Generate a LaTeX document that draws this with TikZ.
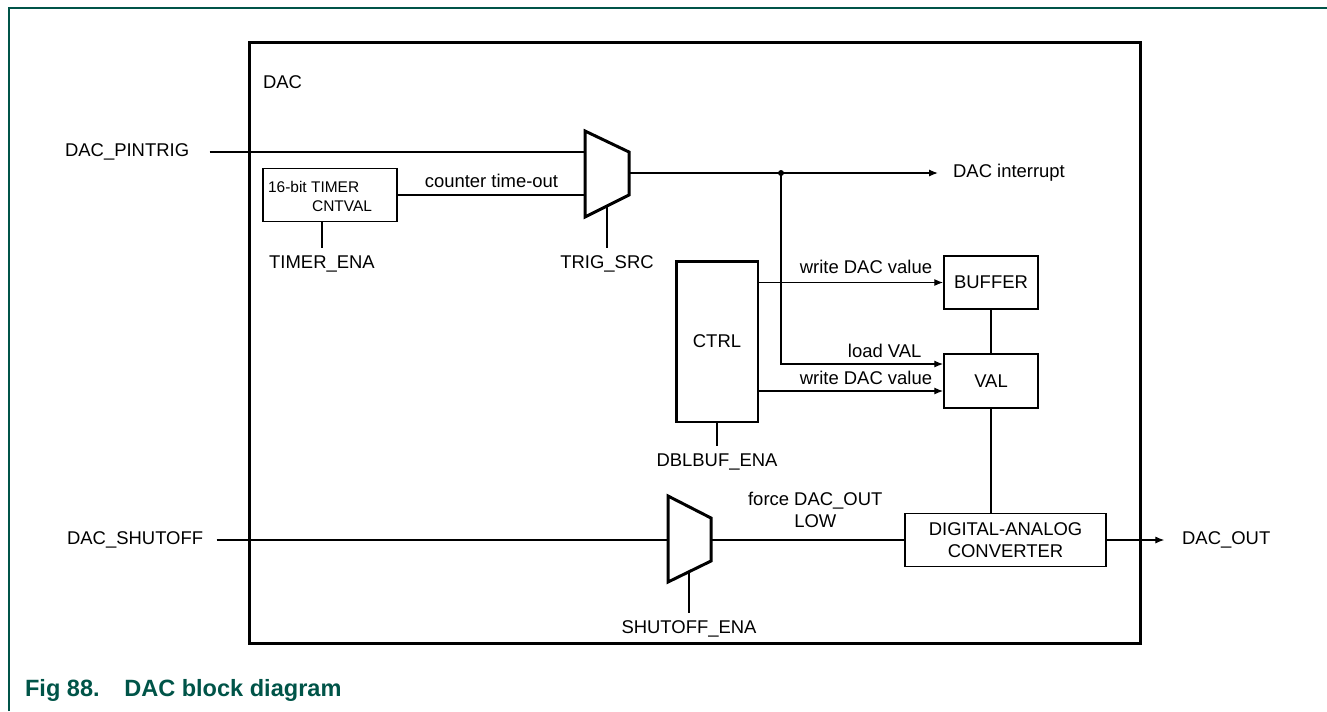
\documentclass[tikz,border=0pt]{standalone}
\usepackage{fontspec}
\setmainfont{Liberation Sans}
\usetikzlibrary{arrows.meta,positioning}
\definecolor{nxpgreen}{RGB}{0,84,72}

\begin{document}
\begin{tikzpicture}[x=0.02cm,y=-0.02cm,
  every node/.style={font=\fontsize{10.5}{12.5}\selectfont,inner sep=1pt},
  blk/.style={draw,line width=1.1pt,inner sep=0pt,align=center},
  bigblk/.style={draw,line width=1.7pt,inner sep=0pt,align=center},
  small/.style={font=\fontsize{8.8}{10}\selectfont},
  wire/.style={line width=0.6pt},
  arr/.style={wire,-{Latex[length=5pt,width=4pt]}},
  mux/.style={line width=1.7pt,line join=miter}
]
\useasboundingbox (0,0) rectangle (1327,711);
% page frame
\draw[nxpgreen,line width=0.8pt] (9,711) -- (9,8) -- (1327,8);

% DAC outline
\node[bigblk,minimum width=17.84cm,minimum height=12.04cm] (dac) at (695,343) {};
\node[anchor=west] (dacname) at (261,82) {DAC};

% blocks
\node[blk,minimum width=2.68cm,minimum height=1.06cm] (timer) at (330,195) {};
\node[small,anchor=west] (timertxt) at (266,187) {16-bit TIMER};
\node[small,anchor=west] (cntval) at (310,206) {CNTVAL};
\node[bigblk,minimum width=1.64cm,minimum height=3.22cm] (ctrl) at (717,341.5) {CTRL};
\node[blk,minimum width=1.88cm,minimum height=1.06cm] (buffer) at (991,282.5) {BUFFER};
\node[blk,minimum width=1.88cm,minimum height=1.08cm] (val) at (991,381) {VAL};
\node[blk,minimum width=4.02cm,minimum height=1.06cm] (conv) at (1005.5,540) {DIGITAL-ANALOG\\CONVERTER};

% multiplexers
\draw[mux] (585,131) -- (629,152) -- (629,195) -- (585,217) -- cycle;
\coordinate (trigA) at (585,152);
\coordinate (trigB) at (585,195);
\coordinate (trigO) at (629,173);
\coordinate (trigS) at (607,206);
\draw[mux] (668,496) -- (711,518) -- (711,561) -- (668,582) -- cycle;
\coordinate (shutA) at (668,540);
\coordinate (shutO) at (711,540);
\coordinate (shutS) at (689,571);

% inputs
\node[anchor=west] (pintrig) at (63,152) {DAC\_PINTRIG};
\draw[wire] ([xshift=10.5pt]pintrig.east) -- (trigA);
\node[anchor=west] (shutoff) at (65,540) {DAC\_SHUTOFF};
\draw[wire] ([xshift=6.5pt]shutoff.east) -- (shutA);
\draw[wire] (timer.east) -- (trigB) node[midway,above=3pt] {counter time-out};

% enables
\draw[wire] ([xshift=-0.16cm]timer.south) -- ++(0,26) node[below=3pt] {TIMER\_ENA};
\draw[wire] (trigS) -- ++(0,42) node[below=3pt] {TRIG\_SRC};
\draw[wire] (ctrl.south) -- ++(0,23) node[below=3pt] {DBLBUF\_ENA};
\draw[wire] (shutS) -- ++(0,42) node[below=3pt] {SHUTOFF\_ENA};

% trigger path
\node[anchor=west] (irq) at (951,173) {DAC interrupt};
\coordinate (tap) at (781,173);
\draw[arr] (trigO) -- ([xshift=-7.5pt]irq.west);
\fill (tap) circle (1.7pt);
\draw[arr] (tap) |- ([yshift=0.34cm]val.west) node[pos=0.82,above=2.5pt] {load VAL};

% data path
\coordinate (valin) at ([yshift=-0.2cm]val.west);
\draw[arr] (ctrl.east |- buffer.west) -- (buffer.west) node[pos=0.58,above=4pt] {write DAC value};
\draw[arr] (ctrl.east |- valin) -- (valin) node[pos=0.58,above=2.5pt] {write DAC value};
\draw[wire] (buffer.south) -- (val.north);
\draw[wire] (val.south) -- (val.south |- conv.north);
\draw[wire] (shutO) -- (shutO -| conv.west) node[pos=0.54,above=5.5pt,align=center] {force DAC\_OUT\\LOW};
\node[anchor=west] (dacout) at (1180,540) {DAC\_OUT};
\draw[arr] (conv.east) -- ([xshift=-9pt]dacout.west);

% caption
\node[anchor=west,font=\bfseries\fontsize{13.4}{16}\selectfont,text=nxpgreen] (caption) at (23,690) {Fig 88.\hspace{14pt}DAC block diagram};
\end{tikzpicture}
\end{document}
